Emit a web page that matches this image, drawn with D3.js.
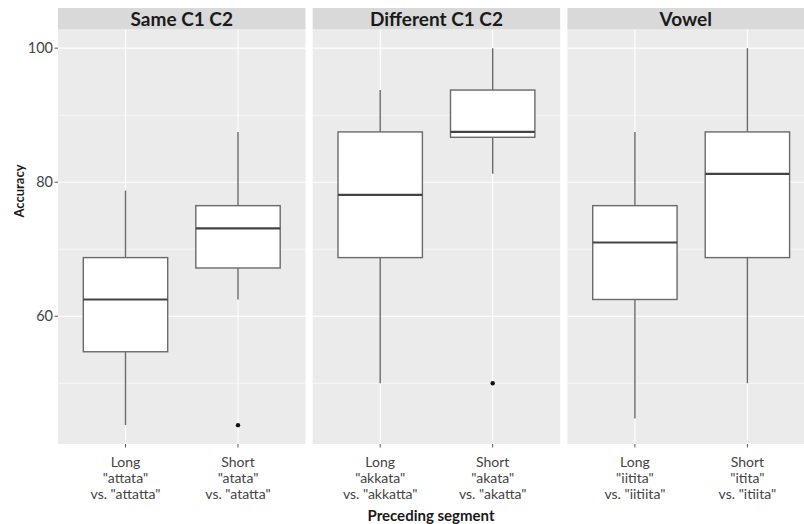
<!DOCTYPE html>
<html>
<head>
<meta charset="utf-8">
<script src="https://cdn.jsdelivr.net/npm/d3@7"></script>
<style>
  html, body { margin: 0; padding: 0; background: #ffffff; }
  svg { display: block; font-family: Lato, "Open Sans", "DejaVu Sans", sans-serif; }
</style>
</head>
<body>
<svg id="chart" width="804" height="524"></svg>
<script>
// ---- data ----
const facets = ["Same C1 C2", "Different C1 C2", "Vowel"];
const groups = ["Long", "Short"];
const tickLabels = [
  [["Long", "\"attata\"", "vs. \"attatta\""], ["Short", "\"atata\"", "vs. \"atatta\""]],
  [["Long", "\"akkata\"", "vs. \"akkatta\""], ["Short", "\"akata\"", "vs. \"akatta\""]],
  [["Long", "\"iitita\"", "vs. \"iitiita\""], ["Short", "\"itita\"", "vs. \"itiita\""]]
];
const lowerWhisker = [[43.75, 62.5], [50, 81.25], [44.75, 50]];
const q1Values     = [[54.7, 67.2], [68.75, 86.7], [62.5, 68.75]];
const medianValues = [[62.5, 73.1], [78.1, 87.5], [71.0, 81.25]];
const q3Values     = [[68.75, 76.5], [87.5, 93.75], [76.5, 87.5]];
const upperWhisker = [[78.75, 87.5], [93.75, 100], [87.5, 100]];
const outliers     = [[[], [43.75]], [[], [50]], [[], []]];
const yTicks = [60, 80, 100];
const yMinor = [50, 70, 90];
const yTitle = "Accuracy";
const xTitle = "Preceding segment";

// ---- layout ----
const W = 804, H = 524;
const plotLeft = 58, panelW = 247.5, gap = 7.2;
const stripTop = 8, stripH = 21.3;
const panelTop = stripTop + stripH, panelBottom = 444;

const svg = d3.select("#chart");

// y scale with ggplot-like 5% expansion
const allVals = [].concat(...lowerWhisker, ...upperWhisker, ...outliers.flat(2));
const [vmin, vmax] = d3.extent(allVals);
const pad = (vmax - vmin) * 0.05;
const y = d3.scaleLinear().domain([vmin - pad, vmax + pad]).range([panelBottom, panelTop]);

// x scale within a panel (discrete with 0.6 expansion)
const xPos = d3.scaleLinear().domain([0.4, 2.6]).range([0, panelW]);
const boxW = xPos(1.375) - xPos(1);

facets.forEach((facet, fi) => {
  const px = plotLeft + fi * (panelW + gap);
  const g = svg.append("g").attr("transform", `translate(${px},0)`);

  // background
  g.append("rect").attr("x", 0).attr("y", panelTop).attr("width", panelW)
    .attr("height", panelBottom - panelTop).attr("fill", "#ebebeb");

  // minor grid
  g.selectAll(".minor").data(yMinor).enter().append("line")
    .attr("x1", 0).attr("x2", panelW)
    .attr("y1", d => y(d)).attr("y2", d => y(d))
    .attr("stroke", "#ffffff").attr("stroke-width", 0.6);
  // major grid
  g.selectAll(".major").data(yTicks).enter().append("line")
    .attr("x1", 0).attr("x2", panelW)
    .attr("y1", d => y(d)).attr("y2", d => y(d))
    .attr("stroke", "#ffffff").attr("stroke-width", 1.1);
  g.selectAll(".vmajor").data(groups).enter().append("line")
    .attr("x1", (d, i) => xPos(i + 1)).attr("x2", (d, i) => xPos(i + 1))
    .attr("y1", panelTop).attr("y2", panelBottom)
    .attr("stroke", "#ffffff").attr("stroke-width", 1.1);

  // strip
  g.append("rect").attr("x", 0).attr("y", stripTop).attr("width", panelW)
    .attr("height", stripH).attr("fill", "#d9d9d9");
  const visRight = Math.min(panelW, W - px);
  g.append("text").attr("x", visRight / 2).attr("y", stripTop + stripH / 2)
    .attr("dy", "0.37em").attr("text-anchor", "middle")
    .attr("font-weight", "bold").attr("font-size", 19).attr("fill", "#1a1a1a")
    .text(facet);

  // boxes
  groups.forEach((grp, gi) => {
    const cx = xPos(gi + 1);
    const lineCol = "#6a6a6a";
    g.append("line").attr("x1", cx).attr("x2", cx)
      .attr("y1", y(upperWhisker[fi][gi])).attr("y2", y(q3Values[fi][gi]))
      .attr("stroke", lineCol).attr("stroke-width", 1.4);
    g.append("line").attr("x1", cx).attr("x2", cx)
      .attr("y1", y(q1Values[fi][gi])).attr("y2", y(lowerWhisker[fi][gi]))
      .attr("stroke", lineCol).attr("stroke-width", 1.4);
    g.append("rect").attr("x", cx - boxW).attr("width", 2 * boxW)
      .attr("y", y(q3Values[fi][gi]))
      .attr("height", y(q1Values[fi][gi]) - y(q3Values[fi][gi]))
      .attr("fill", "#ffffff").attr("stroke", lineCol).attr("stroke-width", 1.4);
    g.append("line").attr("x1", cx - boxW).attr("x2", cx + boxW)
      .attr("y1", y(medianValues[fi][gi])).attr("y2", y(medianValues[fi][gi]))
      .attr("stroke", "#444444").attr("stroke-width", 2.2);
    outliers[fi][gi].forEach(v => {
      g.append("circle").attr("cx", cx).attr("cy", y(v)).attr("r", 2.2).attr("fill", "#111111");
    });

    // x tick & labels
    g.append("line").attr("x1", cx).attr("x2", cx)
      .attr("y1", panelBottom).attr("y2", panelBottom + 3.5)
      .attr("stroke", "#555555").attr("stroke-width", 1);
    const t = g.append("text").attr("text-anchor", "middle")
      .attr("font-size", 14).attr("fill", "#444444");
    tickLabels[fi][gi].forEach((ln, li) => {
      t.append("tspan").attr("x", cx).attr("y", 467 + li * 16).text(ln);
    });
  });
});

// y axis ticks & labels
const ya = svg.append("g");
ya.selectAll("line").data(yTicks).enter().append("line")
  .attr("x1", plotLeft - 3.5).attr("x2", plotLeft)
  .attr("y1", d => y(d)).attr("y2", d => y(d))
  .attr("stroke", "#555555").attr("stroke-width", 1);
ya.selectAll("text").data(yTicks).enter().append("text")
  .attr("x", plotLeft - 5).attr("y", d => y(d)).attr("dy", "0.36em")
  .attr("text-anchor", "end").attr("font-size", 14.5).attr("fill", "#444444")
  .text(d => d);

// axis titles
svg.append("text").attr("transform", `translate(24,191) rotate(-90)`)
  .attr("text-anchor", "middle").attr("font-weight", "bold").attr("font-size", 13)
  .attr("fill", "#1a1a1a").text(yTitle);
svg.append("text").attr("x", (plotLeft + W) / 2).attr("y", 520.5)
  .attr("text-anchor", "middle").attr("font-weight", "bold").attr("font-size", 15)
  .attr("fill", "#1a1a1a").text(xTitle);
</script>
</body>
</html>
